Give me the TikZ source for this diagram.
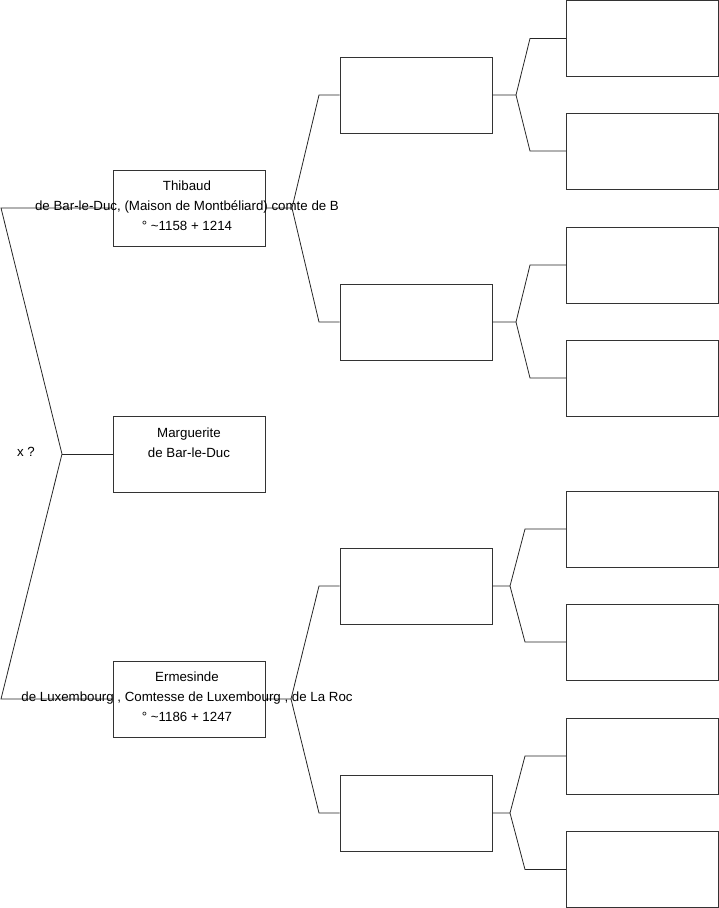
\documentclass[tikz,border=0pt]{standalone}
\usepackage{fontspec}
\setmainfont{Liberation Sans}
\usepackage{tikz}
\usetikzlibrary{positioning, calc}

\tikzset{
    person/.style={draw=black!80, line width=0.8pt, minimum width=152pt, minimum height=76pt, inner sep=0pt},
    persontext/.style={align=center, inner sep=0pt, font=\fontsize{13.3}{20}\selectfont},
    link/.style={draw=black!85, line width=0.8pt}
}

\begin{document}
\begin{tikzpicture}[x=1pt, y=-1pt]
    \useasboundingbox (0,0) rectangle (719,908);

    % Generation 1
    \node[person] (p1) at (189,208) {};
    \node[person] (p2) at (189,454) {};
    \node[person] (p3) at (189,699) {};

    % Generation 2
    \node[person] (g1) at (416,95) {};
    \node[person] (g2) at (416,322) {};
    \node[person] (g3) at (416,586) {};
    \node[person] (g4) at (416,813) {};

    % Generation 3 (empty boxes)
    \foreach \y [count=\i] in {38.5,151,265,378,529,642,756,869.5}
        \node[person] (gg\i) at (642.5,\y) {};

    % Bracket points
    \coordinate (r0) at (62,454);
    \coordinate (r0a) at (1,208);
    \coordinate (r0b) at (1,699);
    \coordinate (r1) at (292,208);
    \coordinate (r1a) at (319,95);
    \coordinate (r1b) at (319,322);
    \coordinate (r3) at (291,699);
    \coordinate (r3a) at (319,586);
    \coordinate (r3b) at (319,813);

    % Brackets
    \draw[link] (p1.west) -- (r0a) -- (r0) -- (r0b) -- (p3.west);
    \draw[link] (r0) -- (p2.west);
    \draw[link] (p1.east) -- (r1) -- (r1a) -- (g1.west);
    \draw[link] (r1) -- (r1b) -- (g2.west);
    \draw[link] (p3.east) -- (r3) -- (r3a) -- (g3.west);
    \draw[link] (r3) -- (r3b) -- (g4.west);

    % Brackets to the last generation
    \foreach \g/\a/\b/\vx/\ex in {1/1/2/516/530, 2/3/4/516/530, 3/5/6/510/525, 4/7/8/510/525} {
        \coordinate (v\g) at (\vx, 0 |- g\g.east);
        \draw[link] (g\g.east) -- (v\g) -- (\ex, 0 |- gg\a.west) -- (gg\a.west);
        \draw[link] (v\g) -- (\ex, 0 |- gg\b.west) -- (gg\b.west);
    }

    % Names
    \node[persontext] (t1) at ($(p1)+(-2,-2)$) {Thibaud\\de Bar-le-Duc, (Maison de Montbéliard) comte de B\\° \textasciitilde1158 + 1214};
    \node[persontext] (t2) at ($(p2)+(0,-1)$) {Marguerite\\de Bar-le-Duc\\\mbox{}};
    \node[persontext] (t3) at ($(p3)+(-2,-2)$) {Ermesinde\\de Luxembourg , Comtesse de Luxembourg , de La Roc\\° \textasciitilde1186 + 1247};
    \node[persontext] (x) at (26,452) {x ?};

\end{tikzpicture}
\end{document}
